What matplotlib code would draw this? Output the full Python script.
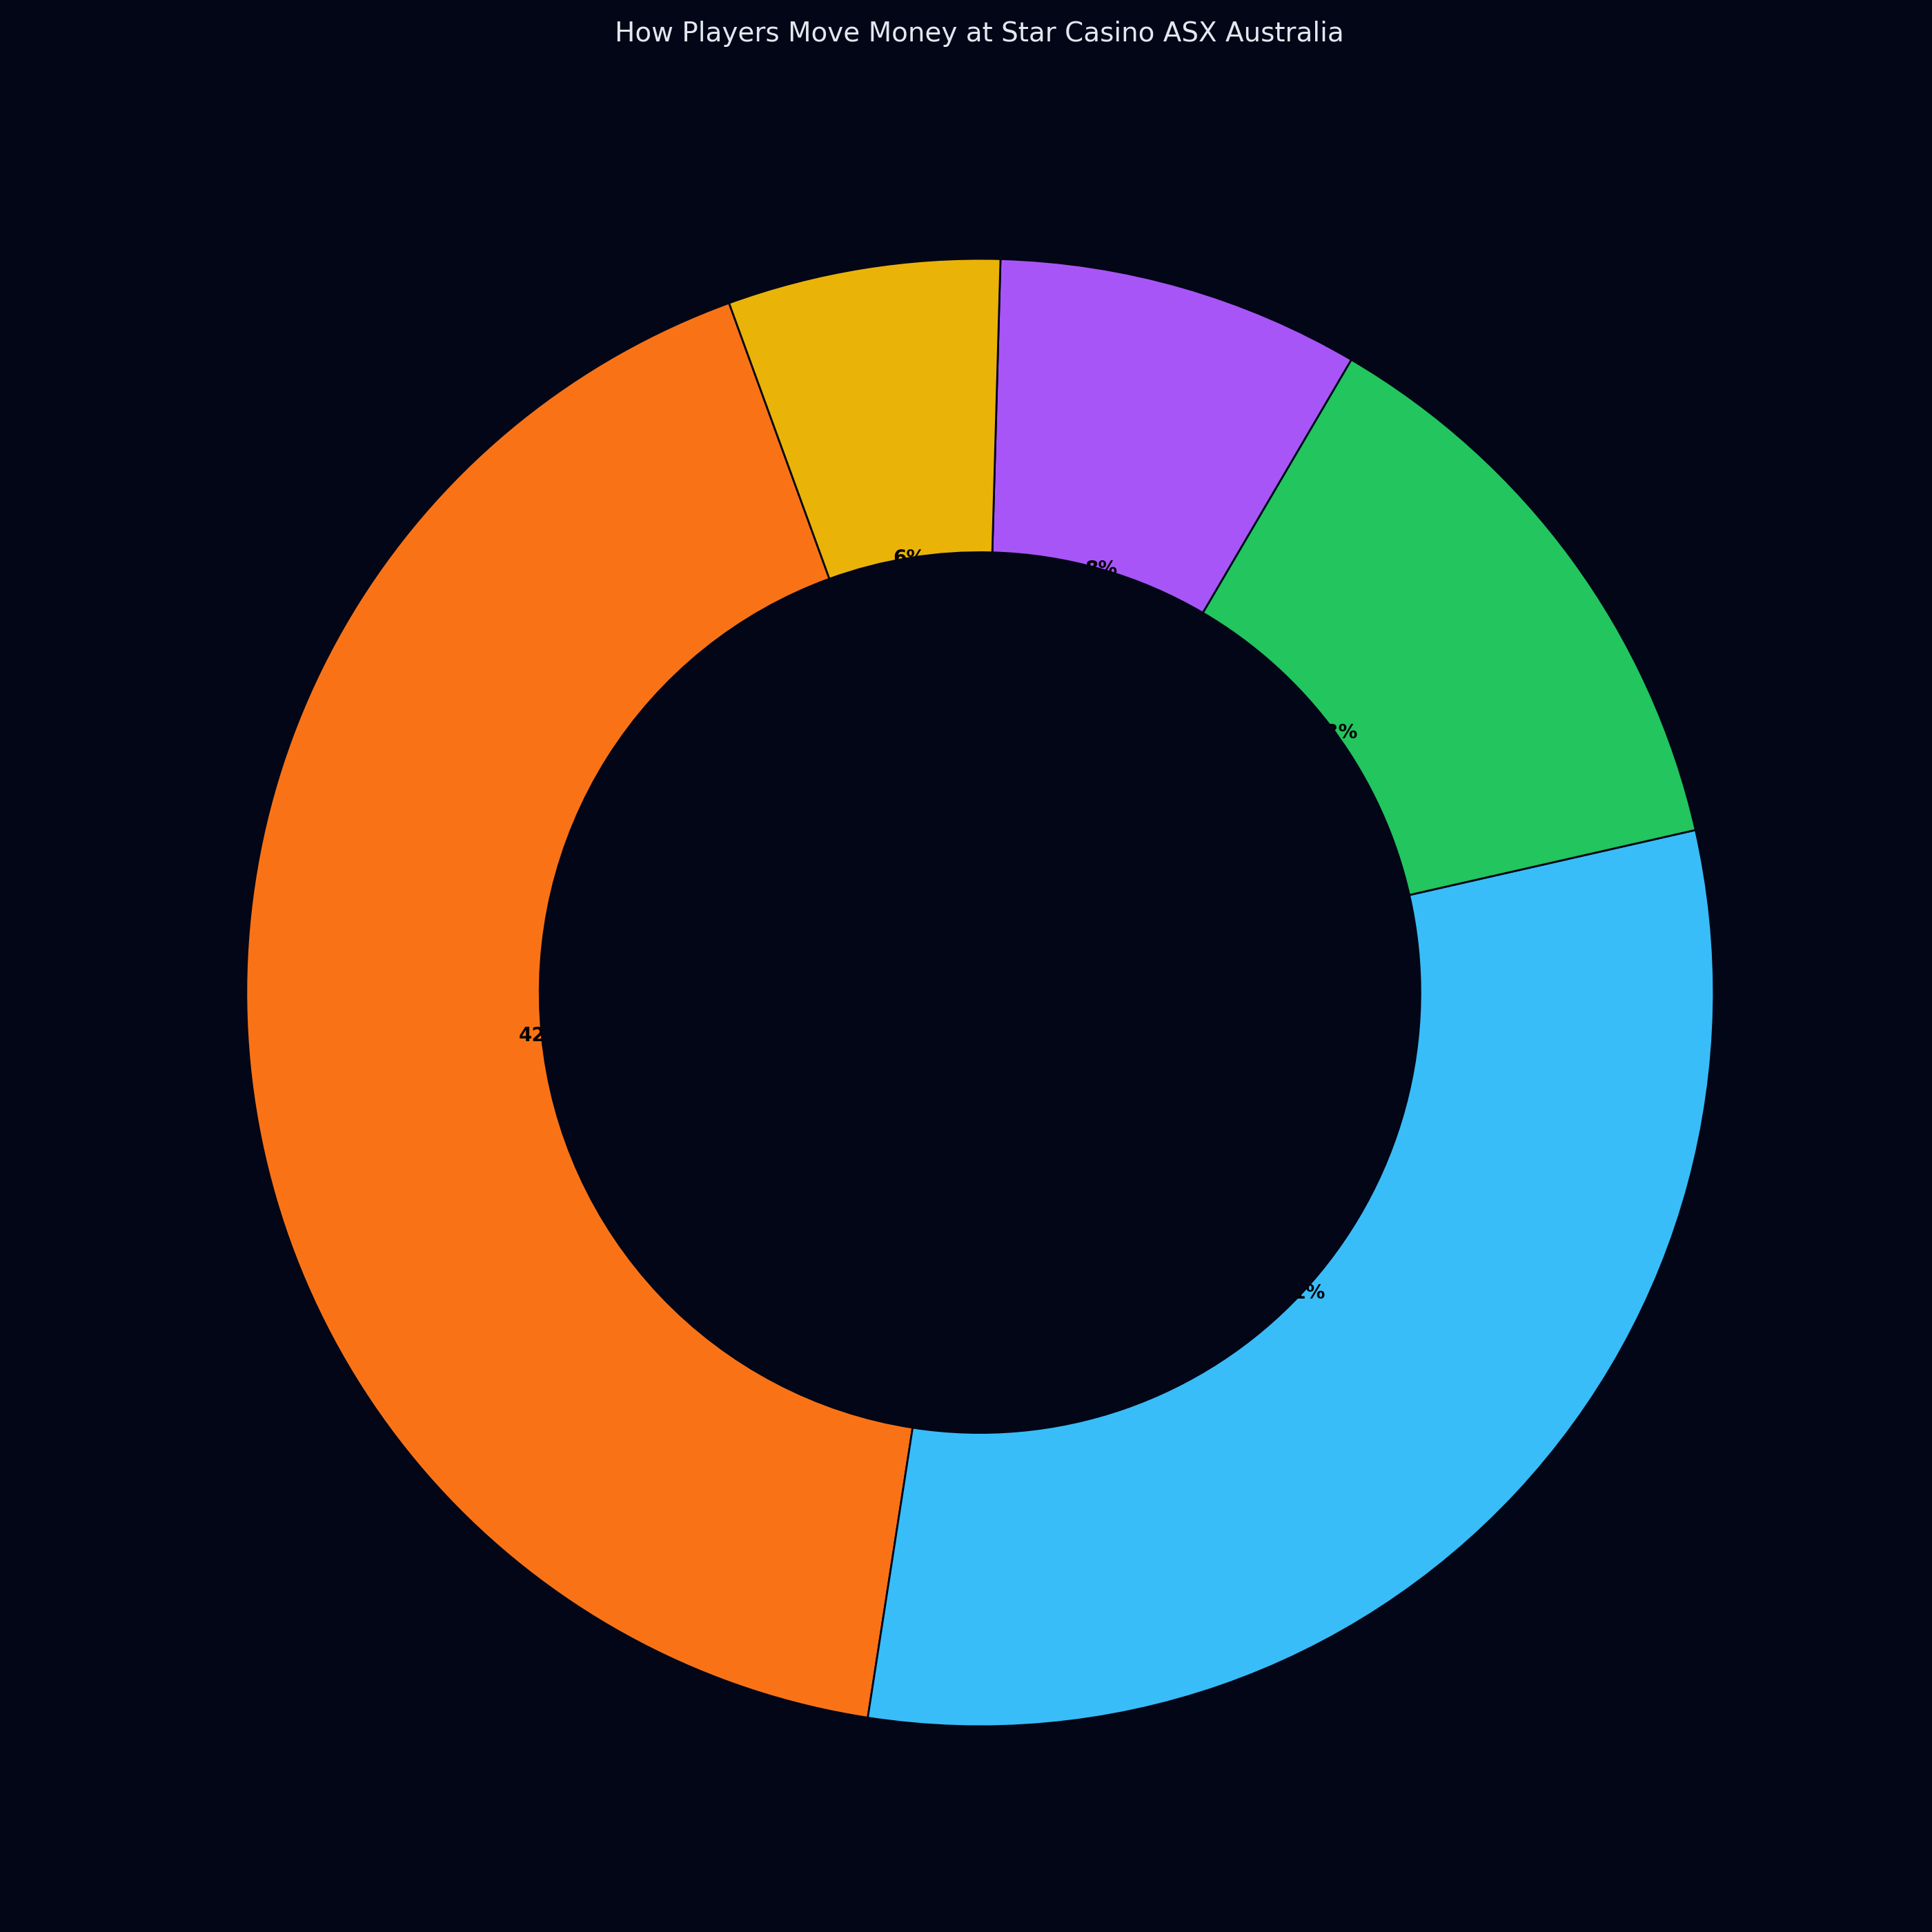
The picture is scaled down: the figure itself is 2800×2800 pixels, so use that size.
import matplotlib
matplotlib.use("Agg")
import matplotlib.pyplot as plt
from matplotlib.patches import Circle

# Payment method shares (%), largest first
methods = ["Cards", "E-wallets", "Bank transfer", "Crypto", "Vouchers"]
shares = [42, 31, 13, 8, 6]
colors = ["#f97316", "#38bdf8", "#22c55e", "#a855f7", "#eab308"]

title = "How Players Move Money at Star Casino ASX Australia"
bg = "#020617"

fig = plt.figure(figsize=(14, 14), dpi=200, facecolor=bg)
ax = fig.add_axes([0.0325, 0.0115, 0.9495, 0.9495])
ax.set_facecolor(bg)

wedges, texts, autotexts = ax.pie(
    shares,
    labels=None,
    colors=colors,
    startangle=110,
    counterclock=True,
    autopct="%.0f%%",
    pctdistance=0.6,
    wedgeprops=dict(width=0.4, edgecolor=bg, linewidth=1),
    textprops=dict(color="black", fontsize=10, fontweight="bold"),
)

# hole on top, hides the half of each label that falls inside it
ax.add_patch(Circle((0, 0), 0.6, facecolor=bg, edgecolor="none", zorder=10))

ax.set_xlim(-1.25, 1.25)
ax.set_ylim(-1.25, 1.25)
ax.set_aspect("equal")
ax.axis("off")

fig.text(0.507, 1 - 60 / 2800, title, ha="center", va="baseline",
         color="#e2e8f0", fontsize=14)

fig.savefig("out.png", dpi=200, facecolor=bg)
